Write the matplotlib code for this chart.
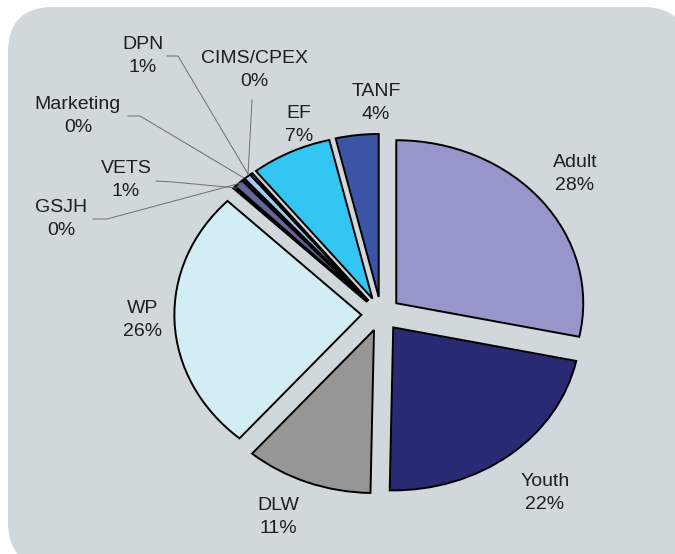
import matplotlib
matplotlib.use("Agg")
import matplotlib.pyplot as plt
from matplotlib.patches import FancyBboxPatch

# ---- data ----
categories = ["Adult", "Youth", "DLW", "WP", "GSJH", "VETS", "Marketing",
              "DPN", "CIMS/CPEX", "EF", "TANF"]
values = [28.3, 22.0, 11.0, 26.0, 0.2, 0.8, 0.2, 0.6, 0.2, 7.0, 3.7]
colors = ["#9696CA", "#292A73", "#969696", "#D3EDF4", "#333399", "#666699",
          "#993366", "#A6CAF0", "#E6E6E6", "#33C6F2", "#3B54A5"]

W, H = 675, 554
fig = plt.figure(figsize=(W / 100, H / 100), dpi=100)
fig.patch.set_facecolor("white")

# background rounded panel (pixel coordinates)
bg = fig.add_axes([0, 0, 1, 1], zorder=0)
bg.set_xlim(0, W)
bg.set_ylim(H, 0)
bg.axis("off")
bg.add_patch(FancyBboxPatch((8, 7), 680, 560,
                            boxstyle="round,pad=0,rounding_size=45",
                            facecolor="#D0D8DB", edgecolor="none"))

# pie axes: elliptical pie (horizontal radius 187 px, vertical 163 px)
cx, cy, rx, ry = 381, 314, 187, 163
lim = 1.25
axw, axh = 2 * lim * rx, 2 * lim * ry
ax = fig.add_axes([(cx - axw / 2) / W, (H - cy - axh / 2) / H, axw / W, axh / H],
                  zorder=1)
ax.patch.set_alpha(0)
ax.pie(values, colors=colors, startangle=90, counterclock=False,
       explode=[0.105] * len(values),
       wedgeprops=dict(edgecolor="black", linewidth=1.4))
ax.set_aspect("auto")
ax.set_xlim(-lim, lim)
ax.set_ylim(-lim, lim)
ax.axis("off")

# overlay for labels and leader lines (pixel coordinates)
ov = fig.add_axes([0, 0, 1, 1], zorder=2)
ov.patch.set_alpha(0)
ov.set_xlim(0, W)
ov.set_ylim(H, 0)
ov.axis("off")

label_pos = {
    "Adult": (575, 174), "Youth": (545, 493), "DLW": (278, 517),
    "WP": (143, 320), "GSJH": (61, 219), "VETS": (126, 180),
    "Marketing": (78, 116), "DPN": (143, 56), "CIMS/CPEX": (254, 70),
    "EF": (299, 125), "TANF": (376, 103),
}
total = sum(values)
for name, v in zip(categories, values):
    x, y = label_pos[name]
    ov.text(x, y, f"{name}\n{round(v / total * 100)}%", ha="center",
            va="center", fontsize=14, family=["Liberation Sans", "DejaVu Sans"],
            color="#1E1E1E", linespacing=1.4)

leaders = [
    [(167, 56), (178, 56), (248, 174)],      # DPN
    [(252, 100), (248, 175)],                # CIMS/CPEX
    [(128, 116), (140, 116), (244, 178)],    # Marketing
    [(156, 181), (173, 182), (237, 188)],    # VETS
    [(93, 219), (107, 219), (241, 183)],     # GSJH
]
for pts in leaders:
    xs, ys = zip(*pts)
    ov.plot(xs, ys, color="#6E6E6E", linewidth=0.7)

fig.savefig("out.png", dpi=100)
